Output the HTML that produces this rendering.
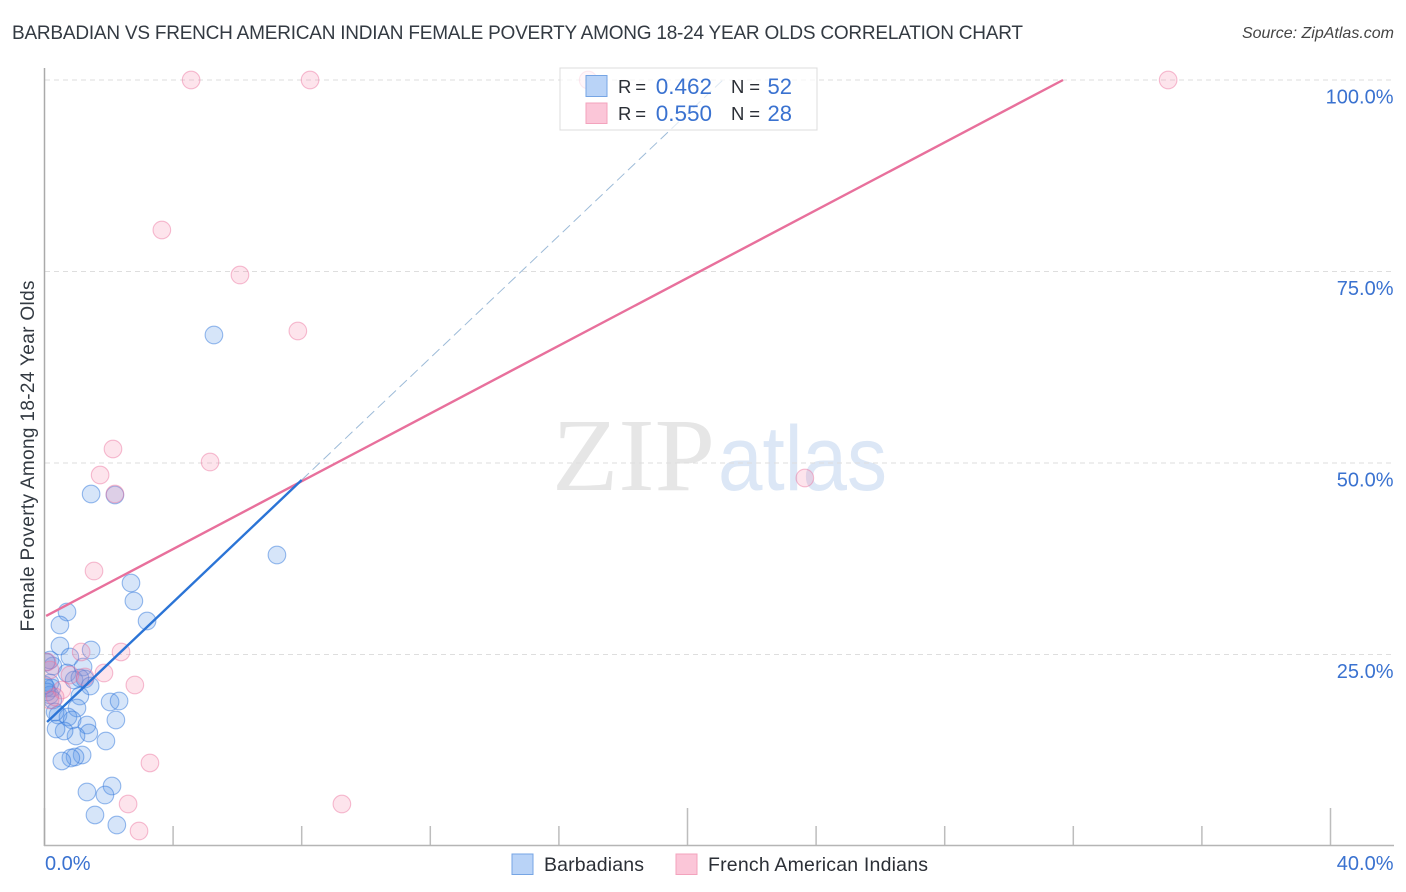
<!DOCTYPE html>
<html lang="en">
<head>
<meta charset="utf-8">
<title>Barbadian vs French American Indian Female Poverty Correlation Chart</title>
<style>
html,body{margin:0;padding:0;background:#fff;width:1406px;height:892px;overflow:hidden}
svg{display:block;font-family:"Liberation Sans",sans-serif}
</style>
</head>
<body>
<svg id="chart" xmlns="http://www.w3.org/2000/svg" width="1406" height="892" viewBox="0 0 1406 892">
  <defs>
    <clipPath id="plot-clip"><rect x="45" y="40" width="1361" height="806"></rect></clipPath>
  </defs>
  <text x="12" y="39" font-size="19" fill="#333a42" textLength="1011" lengthAdjust="spacing">BARBADIAN VS FRENCH AMERICAN INDIAN FEMALE POVERTY AMONG 18-24 YEAR OLDS CORRELATION CHART</text>
  <text x="1394" y="38" font-size="16" font-style="italic" fill="#444" text-anchor="end">Source: ZipAtlas.com</text>
  <g>
    <text x="552" y="490" font-family="'Liberation Serif',serif" font-size="104" fill="#e6e6e6" textLength="163" lengthAdjust="spacingAndGlyphs">ZIP</text>
    <text x="718" y="490" font-size="92" fill="#dce7f6" textLength="169" lengthAdjust="spacingAndGlyphs">atlas</text>
  </g>
  <g id="grid"></g>
  <g id="ticks"></g>
  <line x1="44.5" y1="68" x2="44.5" y2="846" stroke="#aaa" stroke-width="1.5"></line>
  <line x1="44" y1="845.5" x2="1394" y2="845.5" stroke="#b5b5b5" stroke-width="1.5"></line>
  <g id="y-labels"></g>
  <g id="x-labels"></g>
  <text transform="translate(34,456) rotate(-90)" font-size="19" fill="#333a42" text-anchor="middle" textLength="351" lengthAdjust="spacing">Female Poverty Among 18-24 Year Olds</text>
  <g id="points" clip-path="url(#plot-clip)"></g>
  <g id="trends"></g>

  <g>
    <rect x="560" y="68" width="257" height="62" fill="#fff" fill-opacity="0.68" stroke="#dcdcdc" stroke-width="1"></rect>
    <rect x="586" y="75.5" width="21" height="21" fill="#b9d3f7" stroke="#76a5e4" stroke-width="1"></rect>
    <text x="618" y="93" font-size="18.5" fill="#2b2f36" textLength="28" lengthAdjust="spacing">R =</text>
    <text x="712" y="94" font-size="22.5" fill="#3a72d0" text-anchor="end">0.462</text>
    <text x="731" y="93" font-size="18.5" fill="#2b2f36" textLength="29" lengthAdjust="spacing">N =</text>
    <text x="792" y="94" font-size="22" fill="#3a72d0" text-anchor="end">52</text>
    <rect x="586" y="103" width="21" height="20.5" fill="#fbc6d8" stroke="#f3a3bd" stroke-width="1"></rect>
    <text x="618" y="120" font-size="18.5" fill="#2b2f36" textLength="28" lengthAdjust="spacing">R =</text>
    <text x="712" y="121" font-size="22.5" fill="#3a72d0" text-anchor="end">0.550</text>
    <text x="731" y="120" font-size="18.5" fill="#2b2f36" textLength="29" lengthAdjust="spacing">N =</text>
    <text x="792" y="121" font-size="22" fill="#3a72d0" text-anchor="end">28</text>
  </g>

  <g>
    <rect x="512" y="854" width="21" height="20.5" fill="#b9d3f7" stroke="#76a5e4" stroke-width="1"></rect>
    <text x="544" y="871" font-size="19.5" fill="#2b2f36" textLength="100" lengthAdjust="spacing">Barbadians</text>
    <rect x="676" y="854" width="21" height="20.5" fill="#fbc6d8" stroke="#f3a3bd" stroke-width="1"></rect>
    <text x="708" y="871" font-size="19.5" fill="#2b2f36" textLength="220" lengthAdjust="spacing">French American Indians</text>
  </g>
</svg>
<script>
const xTickValues = [0, 4, 8, 12, 16, 20, 24, 28, 32, 36, 40];
const xMajorTicks = [0, 20, 40];
const xEdgeLabels = [0, 40];
const yTickValues = [25, 50, 75, 100];

const barbadianX = [1.45,2.19,5.27,7.23,0.70,0.48,0.48,1.45,2.69,2.78,3.19,0.79,0.26,0.17,1.20,0.70,0.92,1.26,1.42,1.10,1.01,0.17,0.23,0.17,0.26,2.04,2.32,2.22,0.42,0.73,0.86,1.32,1.38,0.98,0.61,0.36,1.91,1.17,0.95,0.82,0.54,2.10,1.88,1.32,1.57,2.25,1.10,0.05,0.05,0.08,0.33,0.00];
const barbadianY = [45.95,45.82,66.71,37.99,30.55,28.85,26.11,25.59,34.33,31.98,29.37,24.67,23.50,24.28,23.37,22.58,21.67,21.80,20.89,19.58,18.02,21.28,20.63,19.71,19.06,18.80,18.93,16.45,17.10,16.84,16.45,15.80,14.75,14.36,15.01,15.27,13.71,11.88,11.62,11.49,11.10,7.83,6.66,7.05,4.05,2.74,21.93,24.02,20.63,20.10,17.49,21.02];

const frenchX = [4.56,8.26,16.91,34.95,3.65,6.08,7.88,2.13,5.15,1.73,2.19,23.65,1.54,1.14,2.38,1.85,2.81,3.28,2.60,2.94,9.25,0.79,1.26,0.54,0.17,0.17,0.33,0.08];
const frenchY = [100,100,100,100,80.42,74.54,67.23,51.83,50.13,48.43,45.95,48.04,35.90,25.33,25.33,22.58,21.02,10.84,5.48,1.96,5.48,22.32,22.06,20.37,22.98,19.06,19.45,24.02];

const barbadianTrendX = [0.08, 8.0];
const barbadianTrendY = [16.19, 47.78];
const barbadianDashedX = [8.0, 21.1];
const barbadianDashedY = [47.78, 100];
const frenchTrendX = [0.05, 31.68];
const frenchTrendY = [30.03, 100];

const SVG_NS = 'http://www.w3.org/2000/svg';
const xScale = v => 44.5 + v * (1330.5 - 44.5) / 40;
const yScale = v => 846 - v * (846 - 80) / 100;

function make(tag, attrs, parentId) {
  const el = document.createElementNS(SVG_NS, tag);
  for (const k in attrs) el.setAttribute(k, attrs[k]);
  document.getElementById(parentId).appendChild(el);
  return el;
}

yTickValues.forEach(v => {
  const line = make('line', {x1: 45, x2: 1394, y1: yScale(v), y2: yScale(v), stroke: '#dedede', 'stroke-width': 1, 'stroke-dasharray': '5 4'}, 'grid');
  
  
  const label = make('text', {x: 1393.5, y: yScale(v) + 23.5, 'font-size': 20, fill: '#3a72d0', 'text-anchor': 'end'}, 'y-labels');
  label.textContent = v.toFixed(1) + '%';
  
  
});

xTickValues.forEach(v => {
  const top = xMajorTicks.includes(v) ? 808 : 826;
  const tick = make('line', {x1: xScale(v), x2: xScale(v), y1: top, y2: 846, stroke: '#bdbdbd', 'stroke-width': 1.5}, 'ticks');
  
  
});

xEdgeLabels.forEach((v, i) => {
  const label = make('text', {x: i === 0 ? 45 : 1393.5, y: 870, 'font-size': 20, fill: '#3a72d0', 'text-anchor': i === 0 ? 'start' : 'end'}, 'x-labels');
  label.textContent = v.toFixed(1) + '%';
  
  
});

barbadianX.forEach((v, i) => {
  const point = make('circle', {cx: xScale(v), cy: yScale(barbadianY[i]), r: 8.8, fill: 'rgba(92,150,232,0.25)', stroke: 'rgba(50,120,220,0.5)', 'stroke-width': 1.1}, 'points');
  
  
});

frenchX.forEach((v, i) => {
  const point = make('circle', {cx: xScale(v), cy: yScale(frenchY[i]), r: 8.8, fill: 'rgba(244,130,170,0.22)', stroke: 'rgba(235,110,155,0.45)', 'stroke-width': 1.1}, 'points');
  
  
});

const dashedLine = make('line', {x1: xScale(barbadianDashedX[0]), y1: yScale(barbadianDashedY[0]), x2: xScale(barbadianDashedX[1]), y2: yScale(barbadianDashedY[1]), stroke: '#9dbbd8', 'stroke-width': 1, 'stroke-dasharray': '10 5'}, 'trends');



const frenchLine = make('line', {x1: xScale(frenchTrendX[0]), y1: yScale(frenchTrendY[0]), x2: xScale(frenchTrendX[1]), y2: yScale(frenchTrendY[1]), stroke: '#e8709c', 'stroke-width': 2.4}, 'trends');



const blueLine = make('line', {x1: xScale(barbadianTrendX[0]), y1: yScale(barbadianTrendY[0]), x2: xScale(barbadianTrendX[1]), y2: yScale(barbadianTrendY[1]), stroke: '#2b74d6', 'stroke-width': 2.4}, 'trends');


</script>
</body>
</html>
